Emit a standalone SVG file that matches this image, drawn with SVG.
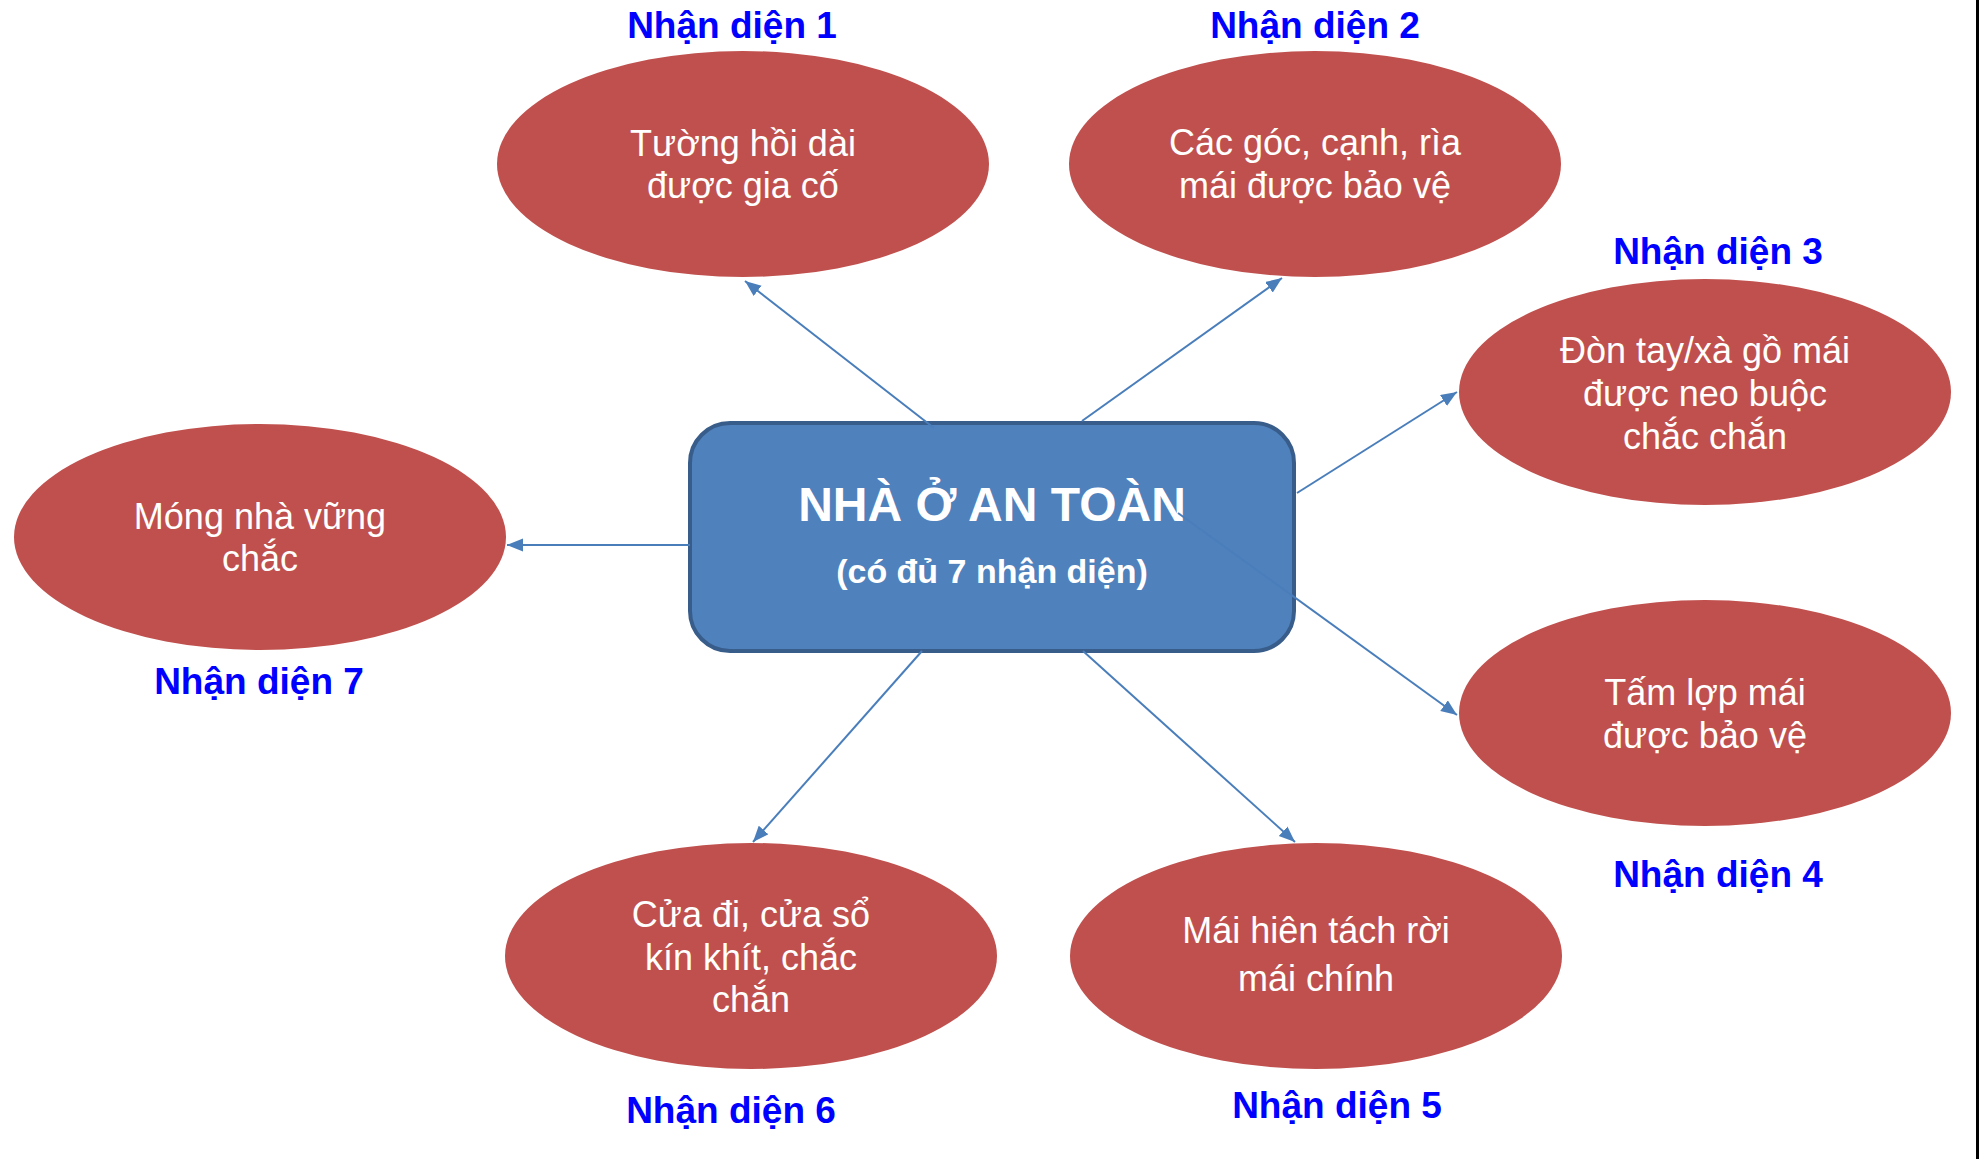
<svg xmlns="http://www.w3.org/2000/svg" width="1984" height="1159" viewBox="0 0 1984 1159">
<style>
.ell{fill:#C0504D;}
.et{font-family:"Liberation Sans",Arial,sans-serif;font-size:36px;fill:#FFFFFF;text-anchor:middle;}
.lbl{font-family:"Liberation Sans",Arial,sans-serif;font-size:37px;font-weight:bold;fill:#0000FF;text-anchor:middle;}
.conn{stroke:#4A7EBB;stroke-width:2;fill:none;marker-end:url(#arr);}
.box{fill:#4F81BD;stroke:#385D8A;stroke-width:4;}
.bt{font-family:"Liberation Sans",Arial,sans-serif;font-weight:bold;fill:#FFFFFF;text-anchor:middle;}
</style>
<defs>
<marker id="arr" markerUnits="userSpaceOnUse" markerWidth="18" markerHeight="14" refX="16" refY="6.5" orient="auto">
<path d="M0,0 L16,6.5 L0,13 z" fill="#4A7EBB"/>
</marker>
</defs>
<rect width="1984" height="1159" fill="#FFFFFF"/>
<line x1="1977.5" y1="0" x2="1977.5" y2="1159" stroke="#000000" stroke-width="3"/>

<g id="center">
<rect class="box" x="690" y="423" width="604" height="228" rx="40" ry="40"/>
<text class="bt" x="992" y="521" font-size="48">NHÀ Ở AN TOÀN</text>
<text class="bt" x="992" y="583" font-size="34">(có đủ 7 nhận diện)</text>
</g>

<g id="n1">
<ellipse class="ell" cx="743" cy="164" rx="246" ry="113"/>
<text class="et" x="743" y="156">Tường hồi dài</text>
<text class="et" x="743" y="198">được gia cố</text>
<text class="lbl" x="732" y="38">Nhận diện 1</text>
</g>

<g id="n2">
<ellipse class="ell" cx="1315" cy="164" rx="246" ry="113"/>
<text class="et" x="1315" y="155">Các góc, cạnh, rìa</text>
<text class="et" x="1315" y="198">mái được bảo vệ</text>
<text class="lbl" x="1315" y="38">Nhận diện 2</text>
</g>

<g id="n3">
<ellipse class="ell" cx="1705" cy="392" rx="246" ry="113"/>
<text class="et" x="1705" y="363">Đòn tay/xà gồ mái</text>
<text class="et" x="1705" y="406">được neo buộc</text>
<text class="et" x="1705" y="449">chắc chắn</text>
<text class="lbl" x="1718" y="264">Nhận diện 3</text>
</g>

<g id="n4">
<ellipse class="ell" cx="1705" cy="713" rx="246" ry="113"/>
<text class="et" x="1705" y="705">Tấm lợp mái</text>
<text class="et" x="1705" y="748">được bảo vệ</text>
<text class="lbl" x="1718" y="887">Nhận diện 4</text>
</g>

<g id="n5">
<ellipse class="ell" cx="1316" cy="956" rx="246" ry="113"/>
<text class="et" x="1316" y="943">Mái hiên tách rời</text>
<text class="et" x="1316" y="991">mái chính</text>
<text class="lbl" x="1337" y="1118">Nhận diện 5</text>
</g>

<g id="n6">
<ellipse class="ell" cx="751" cy="956" rx="246" ry="113"/>
<text class="et" x="751" y="927">Cửa đi, cửa sổ</text>
<text class="et" x="751" y="970">kín khít, chắc</text>
<text class="et" x="751" y="1012">chắn</text>
<text class="lbl" x="731" y="1123">Nhận diện 6</text>
</g>

<g id="n7">
<ellipse class="ell" cx="260" cy="537" rx="246" ry="113"/>
<text class="et" x="260" y="529">Móng nhà vững</text>
<text class="et" x="260" y="571">chắc</text>
<text class="lbl" x="259" y="694">Nhận diện 7</text>
</g>

<g id="connectors">
<line class="conn" x1="934" y1="428" x2="745" y2="281"/>
<line class="conn" x1="1082" y1="421" x2="1282" y2="278"/>
<line class="conn" x1="1297" y1="493" x2="1457" y2="392"/>
<line class="conn" x1="1178" y1="513" x2="1457" y2="715"/>
<line class="conn" x1="1083" y1="651" x2="1295" y2="842"/>
<line class="conn" x1="922" y1="651" x2="753" y2="842"/>
<line class="conn" x1="690" y1="545" x2="507" y2="545"/>
</g>
</svg>
